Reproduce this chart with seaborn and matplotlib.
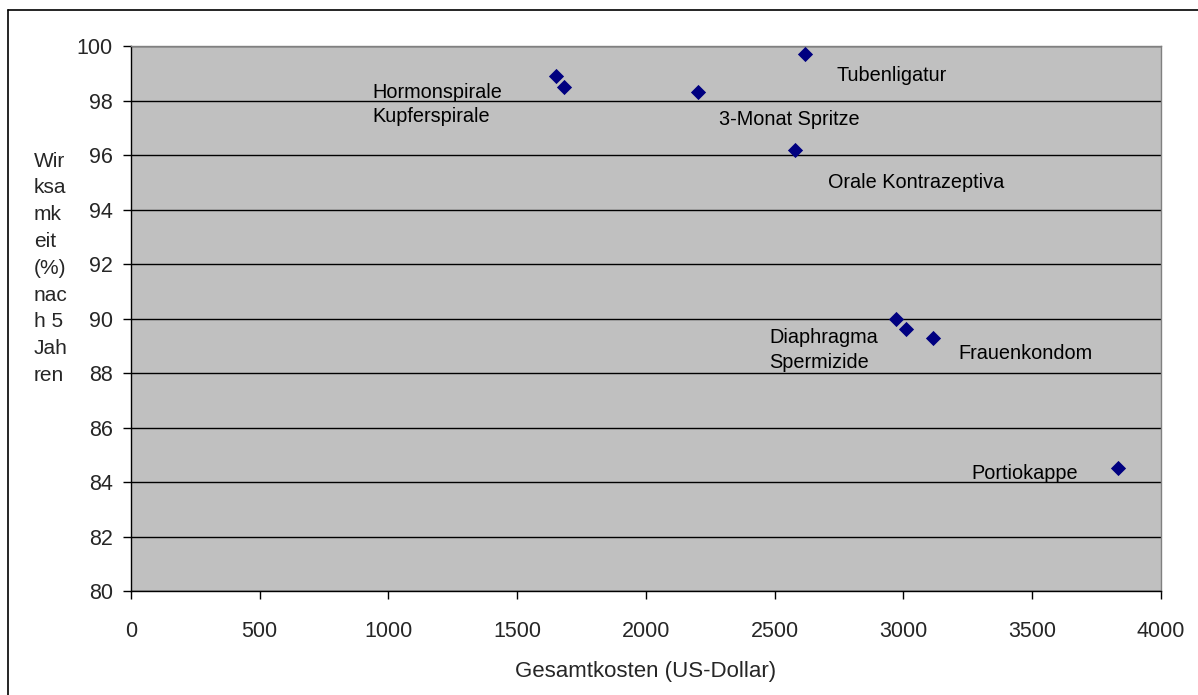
import pandas as pd
import matplotlib.pyplot as plt
import seaborn as sns
from matplotlib.lines import Line2D

# Daten: Kosten vs. Wirksamkeit
methoden = ['Hormonspirale', 'Kupferspirale', '3-Monat Spritze', 'Tubenligatur',
            'Orale Kontrazeptiva', 'Diaphragma', 'Spermizide', 'Frauenkondom', 'Portiokappe']
kosten = [1650, 1682, 2202, 2617, 2579, 2971, 3010, 3115, 3833]
wirksamkeit = [98.9, 98.5, 98.3, 99.7, 96.2, 90.0, 89.6, 89.3, 84.5]

# Beschriftungspositionen (Datenkoordinaten, linke Kante)
label_x = [936, 936, 2283, 2738, 2707, 2478, 2478, 3212, 3262]
label_y = [98.28, 97.4, 97.3, 98.9, 95.0, 89.3, 88.4, 88.7, 84.3]

df = pd.DataFrame({'Methode': methoden, 'Kosten': kosten, 'Wirksamkeit': wirksamkeit})

sns.set_style('white')
plt.rcParams['font.family'] = ['Liberation Sans', 'DejaVu Sans']

fig = plt.figure(figsize=(11.98, 6.95), dpi=100)
ax = fig.add_axes([0.1093, 0.1496, 0.8598, 0.7842])
ax.set_facecolor('#C0C0C0')

sns.scatterplot(data=df, x='Kosten', y='Wirksamkeit', marker='D', s=60,
                color='#000080', edgecolor='#000080', linewidth=0, ax=ax, zorder=3)

for name, lx, ly in zip(methoden, label_x, label_y):
    ax.text(lx, ly, name, fontsize=14.3, va='center', ha='left', color='black')

ax.set_xlim(0, 4000)
ax.set_ylim(80, 100)
ax.set_xticks(range(0, 4001, 500))
ax.set_yticks(range(80, 101, 2))
ax.yaxis.grid(True, color='black', linewidth=1)
ax.xaxis.grid(False)
ax.set_axisbelow(True)

for side in ['left', 'bottom']:
    ax.spines[side].set_color('black')
    ax.spines[side].set_linewidth(1)
for side in ['top', 'right']:
    ax.spines[side].set_color('#808080')
    ax.spines[side].set_linewidth(1)

ax.tick_params(axis='both', direction='out', length=6, width=1, color='black',
               labelsize=15.5, bottom=True, left=True)
ax.tick_params(axis='x', pad=15.5)
ax.tick_params(axis='y', pad=7)

ax.set_xlabel('Gesamtkosten (US-Dollar)', fontsize=16, labelpad=14)
ax.set_ylabel('')
fig.text(34 / 1198, 0.614, 'Wir\nksa\nmk\neit\n(%)\nnac\nh 5\nJah\nren', fontsize=15,
         ha='left', va='center', multialignment='left', linespacing=1.52)

# Rahmen um das Diagramm
fig.add_artist(Line2D([8 / 1198, 8 / 1198], [0, 1 - 10 / 695], color='black', linewidth=1.2))
fig.add_artist(Line2D([8 / 1198, 1], [1 - 10 / 695, 1 - 10 / 695], color='black', linewidth=1.2))

fig.savefig('out.png', dpi=100)
